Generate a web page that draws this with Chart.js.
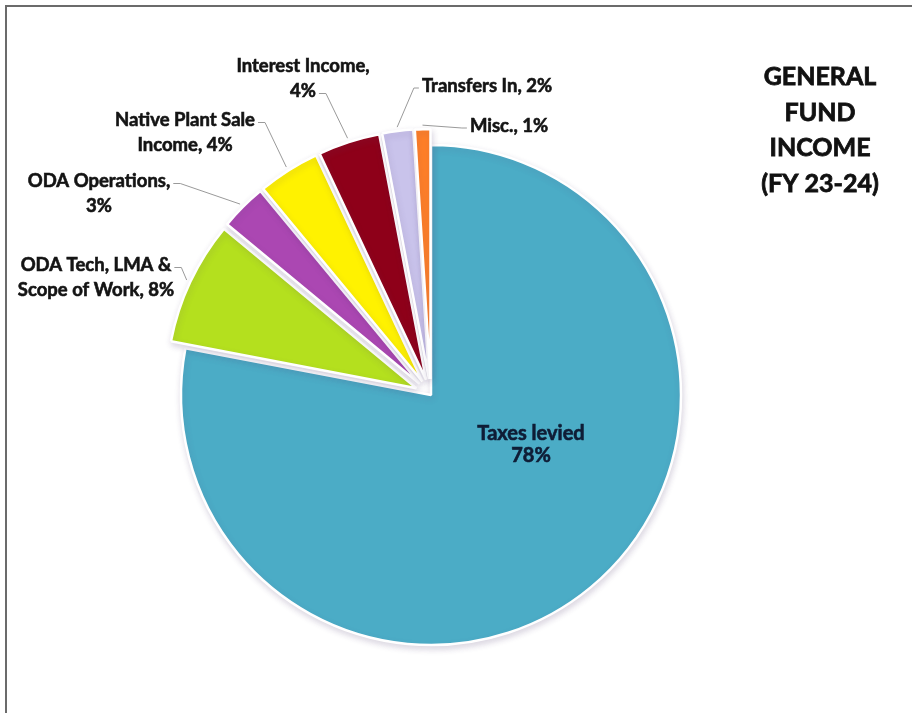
<!DOCTYPE html>
<html>
<head>
<meta charset="utf-8">
<title>General Fund Income (FY 23-24)</title>
<script src="https://cdn.jsdelivr.net/npm/chart.js@4.4.1/dist/chart.umd.min.js"></script>
<style>
  html, body { margin: 0; padding: 0; background: #fff; }
  #wrap { position: relative; width: 912px; height: 713px; }
</style>
</head>
<body>
<div id="wrap"><canvas id="incomePie" width="912" height="713"></canvas></div>
<script>
// General fund income, FY 23-24, as percent of total
const categories = ["Taxes levied", "ODA Tech, LMA & Scope of Work", "ODA Operations",
  "Native Plant Sale Income", "Interest Income", "Transfers In", "Misc."];
const shares = [78, 8, 3, 4, 4, 2, 1];
const titleLines = ["GENERAL", "FUND", "INCOME", "(FY 23-24)"];

// how each slice label wraps; {v} becomes the share
const labelWraps = [
  ["Taxes levied", "{v}%"],
  ["ODA Tech, LMA &", "Scope of Work, {v}%"],
  ["ODA Operations,", "{v}%"],
  ["Native Plant Sale", "Income, {v}%"],
  ["Interest Income,", "{v}%"],
  ["Transfers In, {v}%"],
  ["Misc., {v}%"]
];

const sliceColors = ["#4bacc6", "#b4e01e", "#ab47b2", "#fff200", "#8e0019", "#c9c3eb", "#ff7f27"];
const sliceExplode = [0, 16, 16, 16, 16, 16, 16];

// label block centres; the leader leaves from one line, on the given side
const labelSpots = [
  { x: 531, y: 446, side: null },
  { x: 96, y: 278, side: "right", line: 0 },
  { x: 99, y: 194, side: "right", line: 0 },
  { x: 185, y: 133, side: "right", line: 0 },
  { x: 303, y: 79, side: "right", line: 1 },
  { x: 487, y: 86, side: "left", line: 0 },
  { x: 509, y: 126, side: "left", line: 0 }
];

const FONT = "Lato, 'Open Sans', sans-serif";
const LINE_H = 25;

// bold text with a hairline stroke so it reads a little heavier
function heavyText(ctx, s, x, y) {
  ctx.fillText(s, x, y);
  ctx.strokeText(s, x, y);
}

// move every slice out along its own middle angle
const explodePlugin = {
  id: "explode",
  beforeDatasetsDraw(chart) {
    const meta = chart.getDatasetMeta(0);
    meta.data.forEach((arc, i) => {
      const d = sliceExplode[i];
      if (!d || arc._patched) return;
      const baseDraw = Object.getPrototypeOf(arc).draw;
      arc.draw = function (ctx) {
        const mid = (this.startAngle + this.endAngle) / 2;
        ctx.save();
        ctx.translate(Math.cos(mid) * d, Math.sin(mid) * d);
        baseDraw.call(this, ctx);
        ctx.restore();
      };
      arc._patched = true;
    });
    const ctx = chart.ctx;
    ctx.save();
    ctx.shadowColor = "rgba(90, 70, 120, 0.2)";
    ctx.shadowBlur = 6;
    ctx.shadowOffsetX = 1;
    ctx.shadowOffsetY = 3;
  },
  afterDatasetsDraw(chart) {
    chart.ctx.restore();
  }
};

const framePlugin = {
  id: "frame",
  beforeDraw(chart) {
    const ctx = chart.ctx;
    ctx.save();
    ctx.fillStyle = "#ffffff";
    ctx.fillRect(0, 0, chart.width, chart.height);
    ctx.strokeStyle = "#6b6b6b";
    ctx.lineWidth = 2;
    ctx.beginPath();
    ctx.moveTo(6, chart.height);
    ctx.lineTo(6, 6);
    ctx.lineTo(chart.width, 6);
    ctx.stroke();
    ctx.restore();
  },
  afterDraw(chart) {
    const ctx = chart.ctx;
    ctx.save();
    ctx.fillStyle = "#111111";
    ctx.strokeStyle = "#111111";
    ctx.lineWidth = 0.8;
    ctx.font = "bold 25px " + FONT;
    ctx.textAlign = "center";
    ctx.textBaseline = "middle";
    titleLines.forEach((t, k) => heavyText(ctx, t, 820, 77 + k * 35.5));
    ctx.restore();
  }
};

const labelPlugin = {
  id: "sliceLabels",
  afterDatasetsDraw(chart) {
    const ctx = chart.ctx;
    const arcs = chart.getDatasetMeta(0).data;
    ctx.save();
    ctx.textAlign = "center";
    ctx.textBaseline = "middle";
    arcs.forEach((arc, i) => {
      const spot = labelSpots[i];
      const lines = labelWraps[i].map(s => s.replace("{v}", shares[i]));
      const top = spot.y - (lines.length - 1) * LINE_H / 2;
      ctx.lineWidth = 0.6;
      if (spot.side === null) {
        ctx.font = "bold 20px " + FONT;
        ctx.fillStyle = ctx.strokeStyle = "#0f1d36";
        lines.forEach((s, k) => heavyText(ctx, s, spot.x, top + k * 22));
        return;
      }
      ctx.font = "bold 18.5px " + FONT;
      ctx.fillStyle = ctx.strokeStyle = "#141414";
      lines.forEach((s, k) => heavyText(ctx, s, spot.x, top + k * LINE_H));

      // leader line from the text to just past the slice rim
      const ly = top + spot.line * LINE_H + 2;
      const w = ctx.measureText(lines[spot.line]).width;
      const sx = spot.side === "right" ? spot.x + w / 2 + 3 : spot.x - w / 2 - 3;
      const ex = spot.side === "right" ? sx + 7 : sx - 5;
      const mid = (arc.startAngle + arc.endAngle) / 2;
      const reach = arc.outerRadius + sliceExplode[i] + 4;
      const ax = arc.x + Math.cos(mid) * reach;
      const ay = arc.y + Math.sin(mid) * reach;
      ctx.strokeStyle = "#9a9a9a";
      ctx.lineWidth = 1;
      ctx.beginPath();
      ctx.moveTo(sx, ly);
      ctx.lineTo(ex, ly);
      ctx.lineTo(ax, ay);
      ctx.stroke();
    });
    ctx.restore();
  }
};

new Chart(document.getElementById("incomePie"), {
  type: "pie",
  data: {
    labels: categories,
    datasets: [{
      data: shares,
      backgroundColor: sliceColors,
      borderColor: "#ffffff",
      borderWidth: 2.5,
      radius: 250
    }]
  },
  options: {
    responsive: false,
    animation: false,
    events: [],
    layout: { padding: { left: 0, right: 50, top: 77, bottom: 0 } },
    plugins: {
      legend: { display: false },
      tooltip: { enabled: false }
    }
  },
  plugins: [framePlugin, explodePlugin, labelPlugin]
});
</script>
</body>
</html>
